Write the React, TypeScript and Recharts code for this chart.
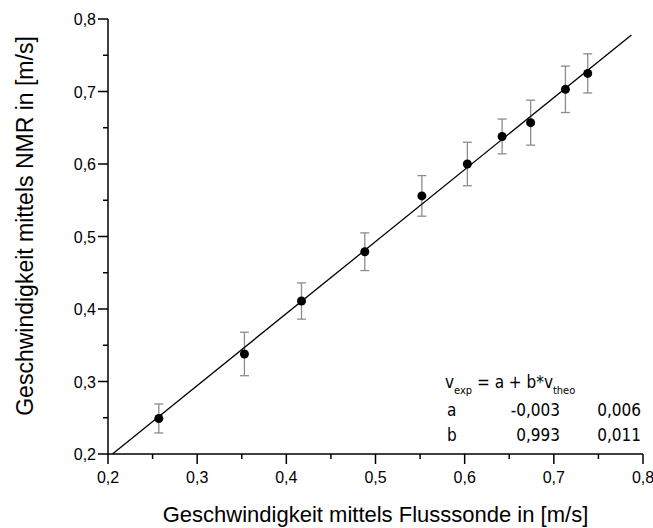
import { ComposedChart, Scatter, XAxis, YAxis, ErrorBar, Customized } from 'recharts';

// Flusssonde (x) vs NMR (y) velocities in m/s, with NMR uncertainty
const flowProbe = [0.257, 0.353, 0.417, 0.488, 0.552, 0.603, 0.642, 0.674, 0.713, 0.738];
const nmrVelocity = [0.249, 0.338, 0.411, 0.479, 0.556, 0.600, 0.638, 0.657, 0.703, 0.725];
const nmrError = [0.02, 0.03, 0.025, 0.026, 0.028, 0.03, 0.024, 0.031, 0.032, 0.027];

// end points of the fitted line v_exp = a + b*v_theo
const fitX = [0.205, 0.787];
const fitY = [0.2, 0.778];

const axisTicks = [0.2, 0.25, 0.3, 0.35, 0.4, 0.45, 0.5, 0.55, 0.6, 0.65, 0.7, 0.75, 0.8];

const fitRows = [
  ['a', '-0,003', '0,006'],
  ['b', '0,993', '0,011'],
];

const points = flowProbe.map((x, i) => ({ x, y: nmrVelocity[i], err: nmrError[i] }));
const fitLine = fitX.map((x, i) => ({ x, y: fitY[i] }));

const tickFont = "'Liberation Sans', Arial, sans-serif";
const noteFont = "'DejaVu Sans Condensed', 'DejaVu Sans', sans-serif";

const fmt = (v: number) => v.toFixed(1).replace('.', ',');
const isMajor = (v: number) => Math.round(v * 100) % 10 === 0;

const XTick = (props: any) => {
  const { x, y, payload } = props;
  const major = isMajor(payload.value);
  return (
    <g>
      <line x1={x} y1={y} x2={x} y2={y + (major ? 10 : 5)} stroke="#000" strokeWidth={1.5} />
      {major && (
        <text x={x} y={y + 29} textAnchor="middle" fontFamily={tickFont} fontSize={16} fill="#000">
          {fmt(payload.value)}
        </text>
      )}
    </g>
  );
};

const YTick = (props: any) => {
  const { x, y, payload } = props;
  const major = isMajor(payload.value);
  return (
    <g>
      <line x1={x - (major ? 10 : 5)} y1={y} x2={x} y2={y} stroke="#000" strokeWidth={1.5} />
      {major && (
        <text x={x - 12} y={y + 6} textAnchor="end" fontFamily={tickFont} fontSize={16} fill="#000">
          {fmt(payload.value)}
        </text>
      )}
    </g>
  );
};

const Dot = (props: any) => <circle cx={props.cx} cy={props.cy} r={4.5} fill="#000" />;

const FitNote = () => (
  <g fontFamily={noteFont} fontSize={17} fill="#000">
    <text x={445} y={388}>
      <tspan>v</tspan>
      <tspan dy={6} fontSize={11}>exp</tspan>
      <tspan dy={-6}> = a + b*v</tspan>
      <tspan dy={6} fontSize={11}>theo</tspan>
    </text>
    {fitRows.map((row, i) => (
      <g key={row[0]}>
        <text x={447} y={416 + i * 25}>{row[0]}</text>
        <text x={560} y={416 + i * 25} textAnchor="end">{row[1]}</text>
        <text x={641} y={416 + i * 25} textAnchor="end">{row[2]}</text>
      </g>
    ))}
  </g>
);

export default function App() {
  return (
    <div style={{ position: 'absolute', left: 0, top: 0, width: 653, height: 528, background: '#fff' }}>
      <ComposedChart width={653} height={528} margin={{ top: 19, right: 10, bottom: 0, left: 0 }}>
        <XAxis
          type="number"
          dataKey="x"
          domain={[0.2, 0.8]}
          ticks={axisTicks}
          interval={0}
          allowDataOverflow
          height={74}
          tickSize={0}
          tickMargin={0}
          tickLine={false}
          axisLine={{ stroke: '#000', strokeWidth: 1.5 }}
          tick={<XTick />}
          label={{
            content: (p: any) => (
              <text
                x={p.viewBox.x + p.viewBox.width / 2}
                y={522}
                textAnchor="middle"
                fontFamily={tickFont}
                fontSize={22}
                fill="#000"
              >
                Geschwindigkeit mittels Flusssonde in [m/s]
              </text>
            ),
          }}
        />
        <YAxis
          type="number"
          dataKey="y"
          domain={[0.2, 0.8]}
          ticks={axisTicks}
          interval={0}
          allowDataOverflow
          width={108}
          tickSize={0}
          tickMargin={0}
          tickLine={false}
          axisLine={{ stroke: '#000', strokeWidth: 1.5 }}
          tick={<YTick />}
          label={{
            content: () => (
              <text
                x={33}
                y={226}
                transform="rotate(-90 33 226)"
                textAnchor="middle"
                fontFamily={tickFont}
                fontSize={23}
                fill="#000"
              >
                Geschwindigkeit mittels NMR in [m/s]
              </text>
            ),
          }}
        />
        <Scatter
          data={fitLine}
          line={{ stroke: '#000', strokeWidth: 1.3 }}
          shape={() => <g />}
          isAnimationActive={false}
        />
        <Scatter data={points} shape={<Dot />} isAnimationActive={false}>
          <ErrorBar dataKey="err" direction="y" width={4.5} stroke="#8c8c8c" strokeWidth={1.3} />
        </Scatter>
        <Customized component={<FitNote />} />
      </ComposedChart>
    </div>
  );
}
